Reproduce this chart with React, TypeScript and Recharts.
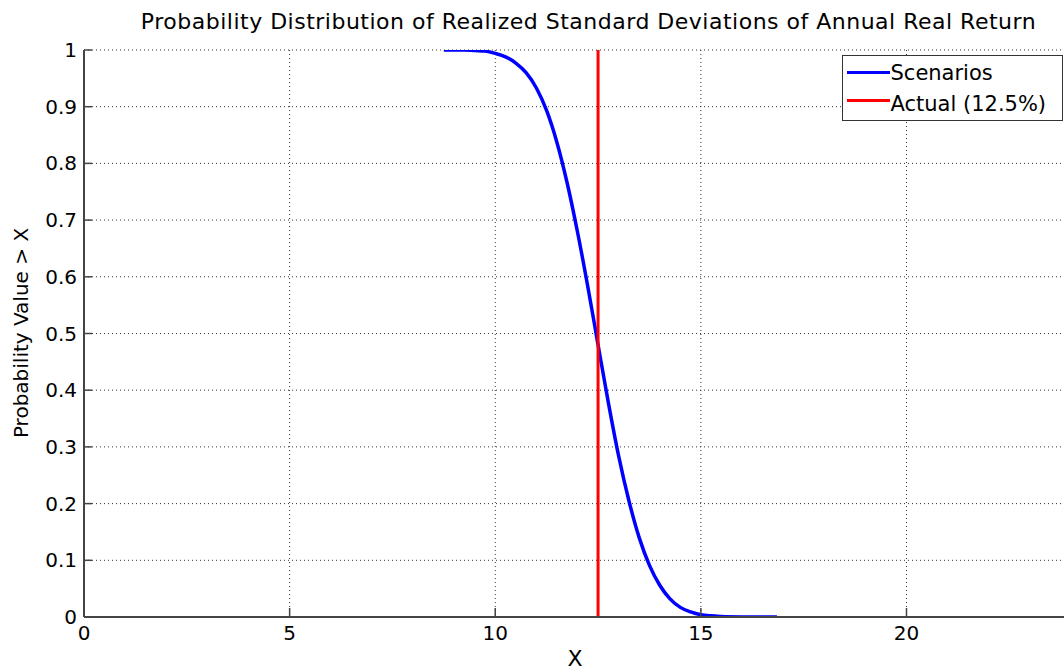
import React from 'react';
import { LineChart, Line, XAxis, YAxis, CartesianGrid, ReferenceLine } from 'recharts';

const xValues = [8.75, 9, 9.25, 9.5, 9.75, 10, 10.25, 10.5, 10.75, 11, 11.25, 11.5, 11.75, 12, 12.25, 12.5, 12.75, 13, 13.25, 13.5, 13.75, 14, 14.25, 14.5, 14.75, 15, 15.25, 15.5, 16, 16.5, 16.85];
const probValues = [1, 1, 1, 0.999, 0.998, 0.994, 0.988, 0.977, 0.96, 0.933, 0.893, 0.837, 0.765, 0.679, 0.583, 0.48, 0.378, 0.284, 0.205, 0.14, 0.091, 0.056, 0.032, 0.017, 0.009, 0.004, 0.002, 0.001, 0.0002, 0, 0];
const xTicks = [0, 5, 10, 15, 20];
const yTicks = [0, 0.1, 0.2, 0.3, 0.4, 0.5, 0.6, 0.7, 0.8, 0.9, 1];
const actualValue = [12.5];
const legendLabels = ['Scenarios', 'Actual (12.5%)'];
const legendColors = ['#0000ff', '#ff0000'];
const titleText = 'Probability Distribution of Realized Standard Deviations of Annual Real Return';
const xLabelText = 'X';
const yLabelText = 'Probability Value > X';

const data = xValues.map((x, i) => ({ x, p: probValues[i] }));

const FONT = '"DejaVu Sans", sans-serif';
const AXIS = '#444';

const XTick = (props: any) => {
  const { x, y, payload } = props;
  return (
    <g>
      <line x1={x} y1={y} x2={x} y2={y - 9} stroke={AXIS} strokeWidth={1.5} />
      <text x={x} y={y + 16} textAnchor="middle" dominantBaseline="central" fontFamily={FONT} fontSize={20} fill="#000">
        {String(payload.value)}
      </text>
    </g>
  );
};

const XTickTop = (props: any) => {
  const { x, y } = props;
  return <line x1={x} y1={y} x2={x} y2={y + 8} stroke={AXIS} strokeWidth={1.5} />;
};

const YTick = (props: any) => {
  const { x, y, payload } = props;
  return (
    <g>
      <line x1={x} y1={y} x2={x + 8} y2={y} stroke={AXIS} strokeWidth={1.5} />
      <text x={x - 7} y={y} textAnchor="end" dominantBaseline="central" fontFamily={FONT} fontSize={20} fill="#000">
        {String(payload.value)}
      </text>
    </g>
  );
};

const textCenters = [73.5, 104.5];
const lineCenters = [73, 101];

export default function App() {
  return (
    <div style={{ position: 'fixed', left: 0, top: 0, width: 1064, height: 672, overflow: 'hidden', background: '#fff' }}>
      <LineChart width={1080} height={672} data={data} margin={{ top: 50, right: 9, bottom: 0, left: 0 }}>
        <CartesianGrid stroke="#333" strokeDasharray="1 3" strokeWidth={1} />
        <XAxis
          dataKey="x"
          type="number"
          domain={[0, 24]}
          ticks={xTicks}
          interval={0}
          height={55}
          tickSize={0}
          tickMargin={0}
          tickLine={false}
          axisLine={{ stroke: AXIS, strokeWidth: 2 }}
          tick={<XTick />}
          allowDataOverflow
        />
        <XAxis
          xAxisId="top"
          orientation="top"
          type="number"
          domain={[0, 24]}
          ticks={xTicks}
          interval={0}
          height={0}
          tickSize={0}
          tickMargin={0}
          tickLine={false}
          axisLine={{ stroke: AXIS, strokeWidth: 1.5 }}
          tick={<XTickTop />}
          allowDataOverflow
        />
        <YAxis
          type="number"
          domain={[0, 1]}
          ticks={yTicks}
          interval={0}
          width={84}
          tickSize={0}
          tickMargin={0}
          tickLine={false}
          axisLine={{ stroke: AXIS, strokeWidth: 2 }}
          tick={<YTick />}
          allowDataOverflow
        />
        <Line
          dataKey="p"
          type="monotone"
          stroke={legendColors[0]}
          strokeWidth={3.5}
          dot={false}
          isAnimationActive={false}
        />
        <ReferenceLine x={actualValue[0]} stroke={legendColors[1]} strokeWidth={3} />
      </LineChart>

      <div style={{ position: 'absolute', left: 0, width: 1177, top: 11, textAlign: 'center', fontFamily: FONT, fontSize: 22, letterSpacing: 0.5, lineHeight: 1, whiteSpace: 'nowrap', color: '#000' }}>
        {titleText}
      </div>
      <div style={{ position: 'absolute', left: 475, width: 200, top: 648, textAlign: 'center', fontFamily: FONT, fontSize: 22, lineHeight: 1, color: '#000' }}>
        {xLabelText}
      </div>
      <div style={{ position: 'absolute', left: 21, top: 333, transform: 'translate(-50%, -50%) rotate(-90deg)', fontFamily: FONT, fontSize: 20, lineHeight: 1, whiteSpace: 'nowrap', color: '#000' }}>
        {yLabelText}
      </div>

      <div style={{ position: 'absolute', left: 842, top: 55, width: 221, height: 66, boxSizing: 'border-box', border: '1.5px solid #333', background: '#fff' }}>
        {legendLabels.map((label, i) => (
          <React.Fragment key={label}>
            <div style={{ position: 'absolute', left: 3.5, top: lineCenters[i] - 55 - 1.5 - 1.5, width: 43, height: 3, background: legendColors[i] }} />
            <div style={{ position: 'absolute', left: 47.5, top: textCenters[i] - 55 - 1.5 - 10.1, fontFamily: FONT, fontSize: 21, lineHeight: 1, whiteSpace: 'nowrap', color: '#000' }}>
              {label}
            </div>
          </React.Fragment>
        ))}
      </div>
    </div>
  );
}
